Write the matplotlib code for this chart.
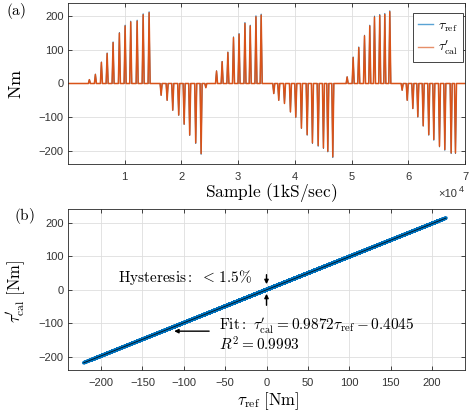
import numpy as np
import matplotlib
matplotlib.use("Agg")
import matplotlib.pyplot as plt

# --- Datos ---
# Centros de los pulsos (muestras) y picos (Nm), por grupo
pos1_centers = [3770, 4830, 5890, 6900, 7950, 9060, 10070, 11060, 12190, 13250, 14300]
pos1_ref = [12, 28, 64, 91, 124, 152, 174, 186, 189, 208, 214]
pos1_cal = [11.5, 27, 63, 89.5, 122, 150, 171.5, 183.5, 186, 205, 211]

neg1_centers = [16420, 17480, 18470, 19520, 20480, 21460, 22520, 23470, 24300]
neg1_ref = [-35, -50, -80, -95, -122, -155, -179, -211, -12]
neg1_cal = [-35, -50, -79.5, -94, -121, -153.5, -177, -209, -12.5]

pos2_centers = [26190, 27180, 28190, 29180, 30160, 31200, 32130, 33140, 34060]
pos2_ref = [38, 66, 94, 139, 149, 182, 174, 202, 207]
pos2_cal = [37, 65, 92.5, 137, 147, 179, 171.5, 199, 204]

neg2_centers = [36280, 37160, 38170, 39220, 40160, 41160, 42170, 43100, 44110, 45040, 45810, 46690]
neg2_ref = [-30, -50, -60, -85, -101, -134, -154, -179, -187, -194, -204, -221]
neg2_cal = [-30, -50, -59.5, -84.5, -100, -133, -152.5, -177, -185, -192, -202, -218.5]

pos3_centers = [49220, 50280, 51270, 52280, 53210, 54040, 54970, 55860, 56740]
pos3_ref = [20, 79, 109, 144, 174, 201, 206, 209, 217]
pos3_cal = [19.5, 77.5, 107, 142, 171.5, 198, 203, 206, 214]

neg3_centers = [58920, 59810, 60800, 61680, 62630, 63610, 64500, 65500, 66440, 67560, 68320]
neg3_ref = [-20, -50, -75, -100, -127, -154, -169, -189, -199, -209, -209]
neg3_cal = [-20, -50, -74.5, -99, -126, -152.5, -167, -187, -197, -207, -207]

# Ajuste lineal indicado en la figura
fit_slope = 0.9872
fit_intercept = -0.4045

x_ticks_top = [10000, 20000, 30000, 40000, 50000, 60000, 70000]
x_ticklabels_top = ["1", "2", "3", "4", "5", "6", "7"]
y_ticks = [-200, -100, 0, 100, 200]
x_ticks_bot = [-200, -150, -100, -50, 0, 50, 100, 150, 200]

# --- Estilo ---
BLUE = "#0072BD"
ORANGE = "#D95319"
DARK = "#262626"
plt.rcParams["mathtext.fontset"] = "cm"
plt.rcParams["font.family"] = ["Liberation Sans", "DejaVu Sans"]

centers = np.array(pos1_centers + neg1_centers + pos2_centers + neg2_centers + pos3_centers + neg3_centers)
ref_peaks = np.array(pos1_ref + neg1_ref + pos2_ref + neg2_ref + pos3_ref + neg3_ref, dtype=float)
cal_peaks = np.array(pos1_cal + neg1_cal + pos2_cal + neg2_cal + pos3_cal + neg3_cal, dtype=float)

# Cada pulso: base - pico - base
HALF_W = 180
t = [0]
ref = [0.0]
cal = [0.0]
for c, r, k in zip(centers, ref_peaks, cal_peaks):
    t += [c - HALF_W, c, c + HALF_W]
    ref += [0.0, r, 0.0]
    cal += [0.0, k, 0.0]
t.append(70000)
ref.append(0.0)
cal.append(0.0)
t = np.array(t)
ref = np.array(ref)
cal = np.array(cal)

fig = plt.figure(figsize=(4.71, 4.16), dpi=100)
W, H = 471, 416
ax1 = fig.add_axes([68 / W, 1 - 164 / H, 397 / W, 161 / H])
ax2 = fig.add_axes([68 / W, 1 - 370 / H, 397 / W, 160.7 / H])


def style_axes(ax):
    ax.grid(True, color="#dedede", lw=0.6)
    ax.set_axisbelow(True)
    ax.tick_params(direction="in", top=True, right=True, length=3, width=0.6,
                   colors=DARK, labelsize=8, labelcolor="#333333")
    for s in ax.spines.values():
        s.set_color(DARK)
        s.set_linewidth(0.6)


# --- (a) Serie temporal ---
ax1.plot(t, ref, color=BLUE, lw=0.7, label=r"$\tau_{\mathrm{ref}}$")
ax1.plot(t, cal, color=ORANGE, lw=1.1, label=r"$\tau^{\prime}_{\mathrm{cal}}$")
ax1.set_xlim(0, 70000)
ax1.set_ylim(-240, 240)
ax1.set_xticks(x_ticks_top)
ax1.set_xticklabels(x_ticklabels_top)
ax1.set_yticks(y_ticks)
style_axes(ax1)
ax1.tick_params(axis="x", pad=5.5)
ax1.tick_params(axis="y", pad=3)
ax1.set_ylabel(r"$\mathrm{Nm}$", fontsize=13)
ax1.set_xlabel(r"$\mathrm{Sample\ (1kS/sec)}$", fontsize=12.5)
ax1.yaxis.set_label_coords(-0.108, 0.5)
ax1.xaxis.label.set_va("center")
ax1.xaxis.set_label_coords(0.511, -0.175)
leg = ax1.legend(loc="upper right", bbox_to_anchor=(0.995, 0.935), borderaxespad=0,
                 fontsize=10, handlelength=1.1, handletextpad=0.4, fancybox=False,
                 framealpha=1, edgecolor=DARK, borderpad=0.35, labelspacing=0.35)
leg.get_frame().set_linewidth(0.6)
for line in leg.get_lines():
    line.set_alpha(0.65)
    line.set_linewidth(1.0)
fig.text(438 / W, 1 - 194 / H, "×10", fontsize=8, color="#333333", va="center", ha="left")
fig.text(458.5 / W, 1 - 190 / H, "4", fontsize=6.5, color="#333333", va="center", ha="left")
fig.text(16 / W, 1 - 11 / H, r"$\mathrm{(a)}$", fontsize=11, ha="center", va="center")

# --- (b) Calibración ---
ax2.plot(ref, cal, color=BLUE, lw=2.6, solid_capstyle="round")
fit_x = np.array([ref.min(), ref.max()])
ax2.plot(fit_x, fit_slope * fit_x + fit_intercept, color="black", lw=0.5)
ax2.set_xlim(-240, 240)
ax2.set_ylim(-240, 240)
ax2.set_xticks(x_ticks_bot)
ax2.set_yticks(y_ticks)
style_axes(ax2)
ax2.tick_params(axis="x", pad=6)
ax2.tick_params(axis="y", pad=3)
ax2.set_xlabel(r"$\tau_{\mathrm{ref}}\ \mathrm{[Nm]}$", fontsize=12)
ax2.set_ylabel(r"$\tau^{\prime}_{\mathrm{cal}}\ \mathrm{[Nm]}$", fontsize=12)
ax2.xaxis.label.set_va("center")
ax2.xaxis.set_label_coords(0.504, -0.193)
ax2.yaxis.set_label_coords(-0.101, 0.49)
fig.text(24 / W, 1 - 216 / H, r"$\mathrm{(b)}$", fontsize=11, ha="center", va="center")

ax2.text(-179, 37, r"$\mathrm{Hysteresis{:}}\ <\,1.5\%$", fontsize=11, va="center", ha="left")
arrow = dict(arrowstyle="-|>", color="black", lw=1.0, mutation_scale=6)
ax2.annotate("", xy=(0, 8), xytext=(0, 53), arrowprops=arrow)
ax2.annotate("", xy=(0, -4), xytext=(0, -55), arrowprops=arrow)
ax2.annotate("", xy=(-115, -124), xytext=(-66, -124), arrowprops=arrow)
ax2.text(-57, -110,
         r"$\mathrm{Fit{:}}\ \tau^{\prime}_{\mathrm{cal}} = 0.9872\tau_{\mathrm{ref}} - 0.4045$",
         fontsize=11, va="center", ha="left")
ax2.text(-57, -164, r"$R^2 = 0.9993$", fontsize=11, va="center", ha="left")

fig.savefig("out.png", dpi=100)
